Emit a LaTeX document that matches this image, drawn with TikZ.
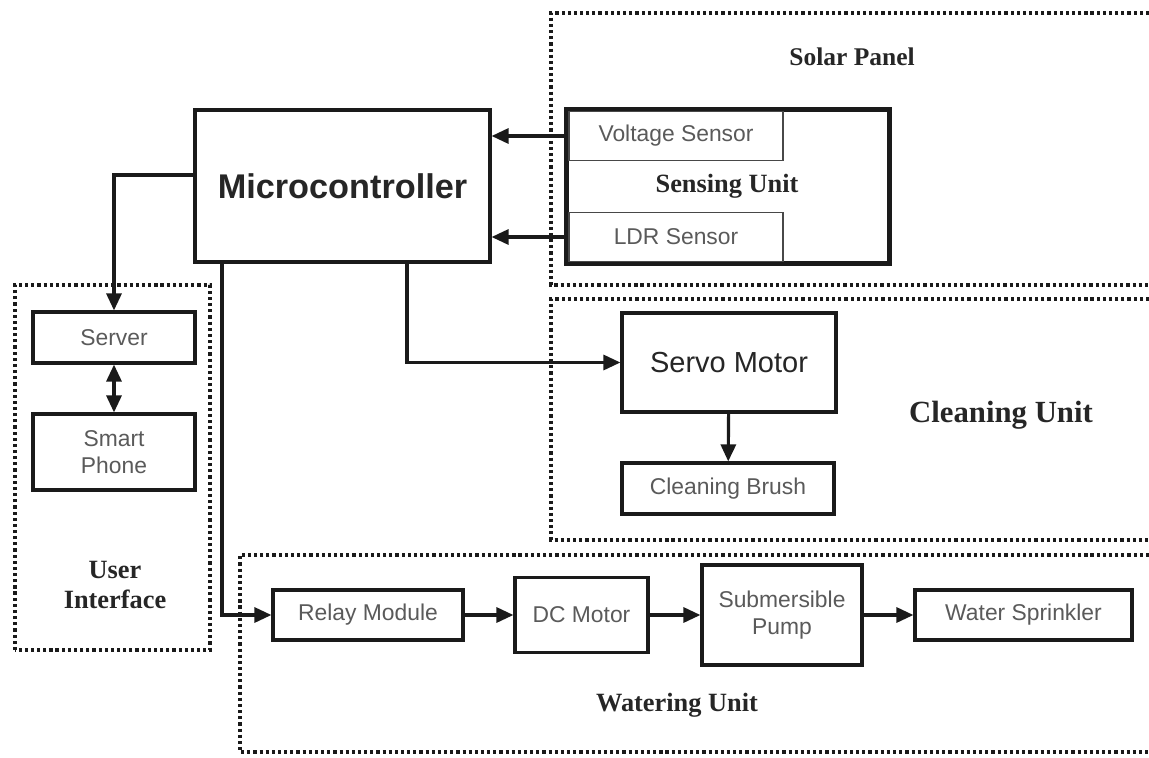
\documentclass[tikz,border=0pt]{standalone}
\usepackage{fontspec}
\setmainfont{Liberation Serif}
\setsansfont{Liberation Sans}
\usetikzlibrary{arrows.meta}
\definecolor{darkline}{HTML}{1A1A1A}
\definecolor{labelgray}{HTML}{5A5A5A}
\definecolor{unitdark}{HTML}{262626}
\tikzset{
  frame/.style={line width=1.8pt, dash pattern=on 1.8pt off 1.7pt, draw=darkline},
  box/.style={rectangle, draw=darkline, line width=1.8pt, inner sep=0pt, align=center, fill=white},
  small/.style={box, text=labelgray, font=\sffamily\fontsize{13}{15}\selectfont},
  sensor/.style={small, line width=1pt, draw=darkline!80},
  outline/.style={line width=1.8pt, draw=darkline},
  big/.style={box, text=unitdark, font=\sffamily\fontsize{16.5}{19}\selectfont},
  mcu/.style={box, text=unitdark, font=\sffamily\bfseries\fontsize{19.5}{22}\selectfont},
  unit-title/.style={font=\bfseries\fontsize{15}{17}\selectfont, text=unitdark, align=center},
  flow/.style={-{Triangle[length=3.4mm, width=3mm]}, line width=1.8pt, draw=darkline},
  both/.style={{Triangle[length=3.4mm, width=3mm]}-{Triangle[length=3.4mm, width=3mm]}, line width=1.8pt, draw=darkline}
}

\begin{document}
\begin{tikzpicture}
\useasboundingbox (0,0) rectangle (22.98,15.14);

% unit frames
\draw[frame] (22.98,14.88) -- (11.02,14.88) -- (11.02,9.44) -- (22.98,9.44);
\draw[frame] (22.98,9.16) -- (11.02,9.16) -- (11.02,4.34) -- (22.98,4.34);
\draw[frame] (0.3,2.14) rectangle (4.2,9.44);
\draw[frame] (22.98,4.04) -- (4.8,4.04) -- (4.8,0.1) -- (22.98,0.1);

\node[unit-title, font=\bfseries\fontsize{14.5}{17}\selectfont] at (17.04,14.0) {Solar Panel};
\node[unit-title, font=\bfseries\fontsize{17.5}{20}\selectfont] at (20.02,6.84) {Cleaning Unit};
\node[unit-title, text width=3cm] at (2.3,3.44) {User\\Interface};
\node[unit-title] at (13.54,1.04) {Watering Unit};

% controller and sensing
\node[mcu, minimum width=5.9cm, minimum height=3.04cm] (mcu) at (6.85,11.42) {Microcontroller};
\node[box, minimum width=6.44cm, minimum height=3.06cm] (sensing) at (14.56,11.41) {};
\node[sensor, minimum width=4.28cm, minimum height=0.98cm] (voltage) at (13.52,12.42) {Voltage Sensor};
\node[sensor, minimum width=4.28cm, minimum height=0.98cm] (ldr) at (13.52,10.40) {LDR Sensor};
\draw[outline] (sensing.north west) rectangle (sensing.south east);
\node[unit-title] at (14.54,11.42) {Sensing Unit};

% cleaning
\node[big, minimum width=4.28cm, minimum height=1.98cm] (servo) at (14.58,7.89) {Servo Motor};
\node[small, minimum width=4.24cm, minimum height=1.02cm] (brush) at (14.56,5.37) {Cleaning Brush};

% user interface
\node[small, minimum width=3.24cm, minimum height=1.02cm] (server) at (2.28,8.39) {Server};
\node[small, minimum width=3.24cm, minimum height=1.52cm] (phone) at (2.28,6.1) {Smart\\Phone};

% watering
\node[small, minimum width=3.8cm, minimum height=1.0cm] (relay) at (7.36,2.84) {Relay Module};
\node[small, minimum width=2.66cm, minimum height=1.5cm] (dcmotor) at (11.63,2.84) {DC Motor};
\node[small, minimum width=3.2cm, minimum height=2.0cm] (pump) at (15.64,2.84) {Submersible\\Pump};
\node[small, minimum width=4.34cm, minimum height=1.0cm] (sprinkler) at (20.47,2.84) {Water Sprinkler};

\draw[flow] (voltage.west) -- (voltage.west -| mcu.east);
\draw[flow] (ldr.west) -- (ldr.west -| mcu.east);
\draw[flow] ([yshift=0.22cm]mcu.west) -| (server.north);
\draw[both] (server) -- (phone);
\draw[flow] ([xshift=1.29cm]mcu.south) |- (servo.west);
\draw[flow] (servo) -- (brush);
\draw[flow] ([xshift=-2.41cm]mcu.south) |- (relay.west);
\draw[flow] (relay) -- (dcmotor);
\draw[flow] (dcmotor) -- (pump);
\draw[flow] (pump) -- (sprinkler);

\end{tikzpicture}
\end{document}
